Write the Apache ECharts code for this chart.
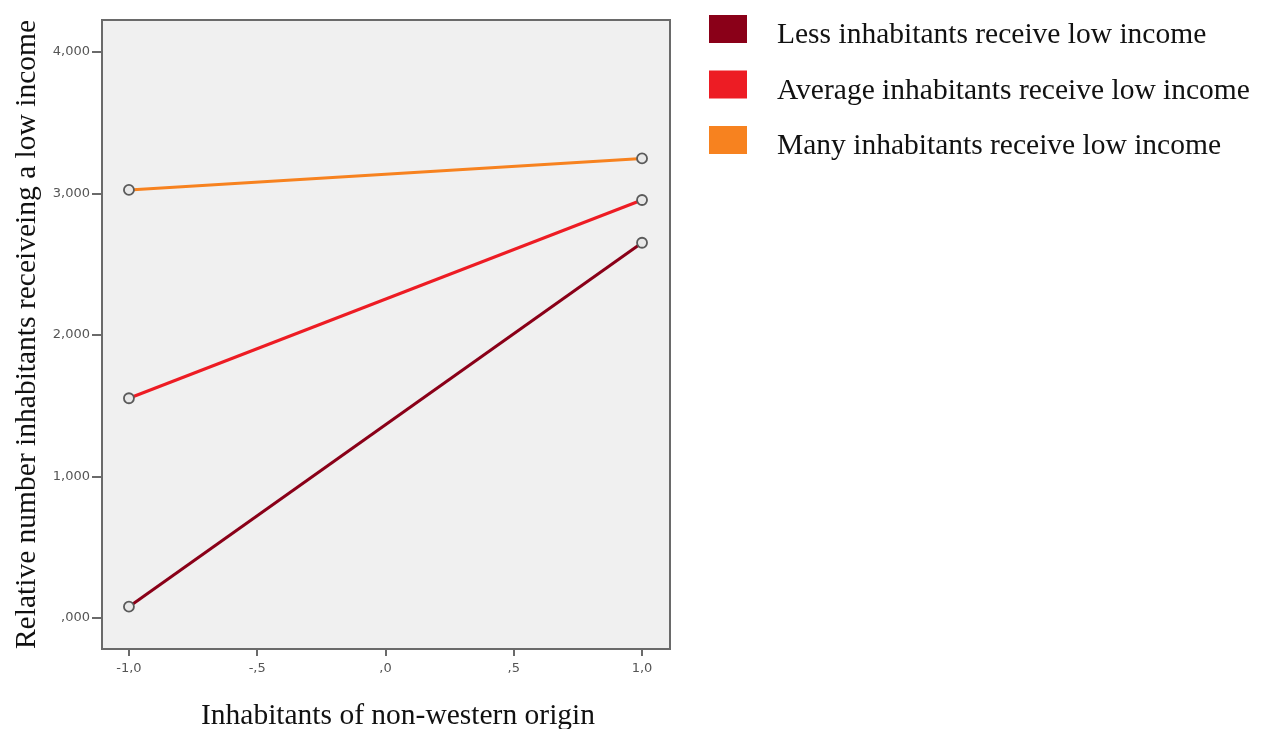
<!DOCTYPE html>
<html>
<head>
<meta charset="utf-8">
<script src="https://cdn.jsdelivr.net/npm/echarts@6/dist/echarts.min.js"></script>
<style>
  html, body { margin: 0; padding: 0; background: #ffffff; }
  #chart { width: 1263px; height: 729px; }
</style>
</head>
<body>
<div id="chart"></div>
<script>
// Interaction of non-western origin and low income levels
const xValues = [-1, 1];
const seriesNames = [
  'Less inhabitants receive low income',
  'Average inhabitants receive low income',
  'Many inhabitants receive low income'
];
const lessValues = [0.080, 2.652];
const averageValues = [1.553, 2.954];
const manyValues = [3.025, 3.248];
const seriesColors = ['#8a0018', '#ed1c24', '#f7821f'];
const xTicks = [-1, -0.5, 0, 0.5, 1];
const yTicks = [0, 1, 2, 3, 4];

const allValues = [lessValues, averageValues, manyValues];

// Comma decimal separator, leading zero dropped (",5", "-,5", ",000")
function fmt(v, digits) {
  let s = Math.abs(v).toFixed(digits).replace('.', ',');
  if (s.startsWith('0,')) s = s.slice(1);
  return (v < 0 ? '-' : '') + s;
}

const serif = '"Liberation Serif", "Times New Roman", serif';
const sans = '"DejaVu Sans", sans-serif';
const chart = echarts.init(document.getElementById('chart'));

chart.setOption({
  animation: false,
  backgroundColor: '#ffffff',
  grid: {
    left: 102, top: 20, right: 593, bottom: 80,
    outerBoundsMode: 'none',
    containLabel: false,
    show: true,
    backgroundColor: '#f0f0f0',
    borderColor: '#6a6a6a',
    borderWidth: 2
  },
  legend: {
    left: 709, top: 15,
    padding: 0,
    orient: 'vertical',
    icon: 'rect',
    itemWidth: 38,
    itemHeight: 28,
    itemGap: 20,
    formatter: '{t|{name}}',
    textStyle: {
      fontFamily: serif, fontSize: 29.5, color: '#111',
      rich: {
        t: { fontFamily: serif, fontSize: 29.5, color: '#111', padding: [13, 0, 0, 25] }
      }
    },
    data: seriesNames.map((n, i) => ({
      name: n,
      itemStyle: { color: seriesColors[i], borderWidth: 0 }
    }))
  },
  xAxis: {
    type: 'value',
    min: -1.105,
    max: 1.109,
    name: 'Inhabitants of non-western origin',
    nameLocation: 'middle',
    nameGap: 52,
    nameTextStyle: { fontFamily: serif, fontSize: 29.5, color: '#111', padding: [0, 0, 0, 24] },
    axisLine: { show: true, onZero: false, lineStyle: { color: '#6a6a6a', width: 2 } },
    axisTick: { show: true, customValues: xTicks, length: 7, lineStyle: { color: '#6a6a6a', width: 2 } },
    axisLabel: {
      customValues: xTicks,
      formatter: v => fmt(v, 1),
      fontFamily: sans,
      fontSize: 13,
      color: '#555',
      margin: 13
    },
    splitLine: { show: false }
  },
  yAxis: {
    type: 'value',
    min: -0.219,
    max: 4.226,
    name: 'Relative number inhabitants receiveing a low income',
    nameLocation: 'middle',
    nameGap: 60,
    nameTextStyle: { fontFamily: serif, fontSize: 29.5, color: '#111' },
    axisLine: { show: true, onZero: false, lineStyle: { color: '#6a6a6a', width: 2 } },
    axisTick: { show: true, customValues: yTicks, length: 10, lineStyle: { color: '#6a6a6a', width: 2 } },
    axisLabel: {
      customValues: yTicks,
      formatter: v => fmt(v, 3),
      fontFamily: sans,
      fontSize: 13,
      color: '#555',
      margin: 12
    },
    splitLine: { show: false }
  },
  series: seriesNames.map((n, i) => ({
    name: n,
    type: 'line',
    data: xValues.map((x, j) => [x, allValues[i][j]]),
    symbol: 'circle',
    symbolSize: 10,
    lineStyle: { color: seriesColors[i], width: 3 },
    itemStyle: { color: '#e8e8e8', borderColor: '#5a5a5a', borderWidth: 1.8 },
    z: 3 + i
  }))
});
</script>
</body>
</html>
